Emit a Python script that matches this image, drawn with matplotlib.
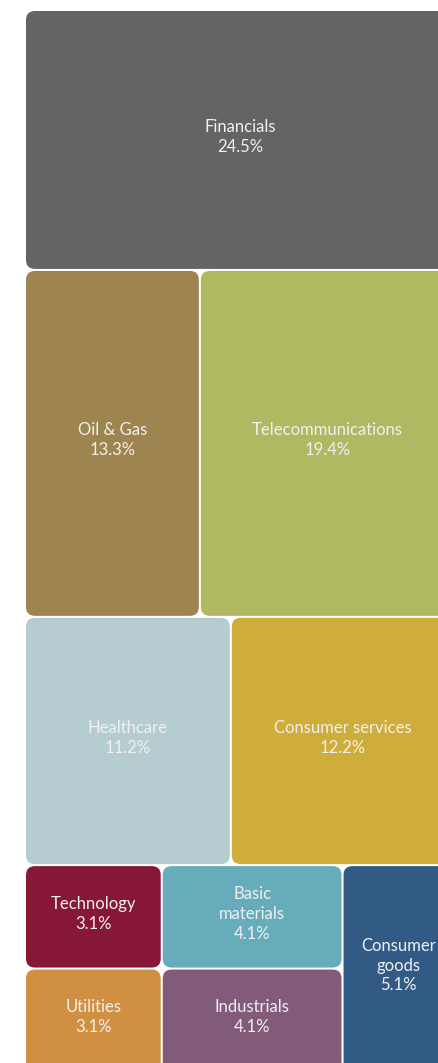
import matplotlib
matplotlib.use("Agg")
import matplotlib.pyplot as plt
from matplotlib.patches import FancyBboxPatch

# ── Data ──────────────────────────────────────────────────────────────────────
sectors = ["Financials", "Oil & Gas", "Telecommunications", "Healthcare",
           "Consumer services", "Technology", "Utilities", "Basic\nmaterials",
           "Industrials", "Consumer\ngoods"]
shares = [24.5, 13.3, 19.4, 11.2, 12.2, 3.1, 3.1, 4.1, 4.1, 5.1]
colors = ["#636466", "#9e8550", "#b0b862", "#b5cdd1", "#cfad3b",
          "#861737", "#cf9042", "#67acbb", "#835b7a", "#315b85"]

# layout: rows of columns of cells (indices into the lists above)
rows = [
    [[0]],
    [[1], [2]],
    [[3], [4]],
    [[5, 6], [7, 8], [9]],
]

# ── Figure ────────────────────────────────────────────────────────────────────
W, H = 439, 1063
fig = plt.figure(figsize=(W / 100, H / 100), dpi=100)
ax = fig.add_axes([0, 0, 1, 1])
ax.set_xlim(0, W)
ax.set_ylim(H, 0)
ax.axis("off")

X0, Y0, TW, TH = 25, 10, 430, 1062   # treemap extends past the right/bottom edge
GAP = 1.0
total = sum(shares)

y = Y0
for row in rows:
    row_sum = sum(shares[i] for col in row for i in col)
    row_h = TH * row_sum / total
    x = X0
    for col in row:
        col_sum = sum(shares[i] for i in col)
        col_w = TW * col_sum / row_sum
        cy = y
        for i in col:
            cell_h = row_h * shares[i] / col_sum
            ax.add_patch(FancyBboxPatch(
                (x + GAP, cy + GAP), col_w - 2 * GAP, cell_h - 2 * GAP,
                boxstyle="round,pad=0,rounding_size=9",
                facecolor=colors[i], edgecolor="none"))
            ax.text(x + col_w / 2, cy + cell_h / 2 - 3,
                    f"{sectors[i]}\n{shares[i]:.1f}%",
                    ha="center", va="center", color="#f0f0f0",
                    fontsize=12, family="Lato", linespacing=1.3)
            cy += cell_h
        x += col_w
    y += row_h

fig.savefig("out.png", dpi=100)
